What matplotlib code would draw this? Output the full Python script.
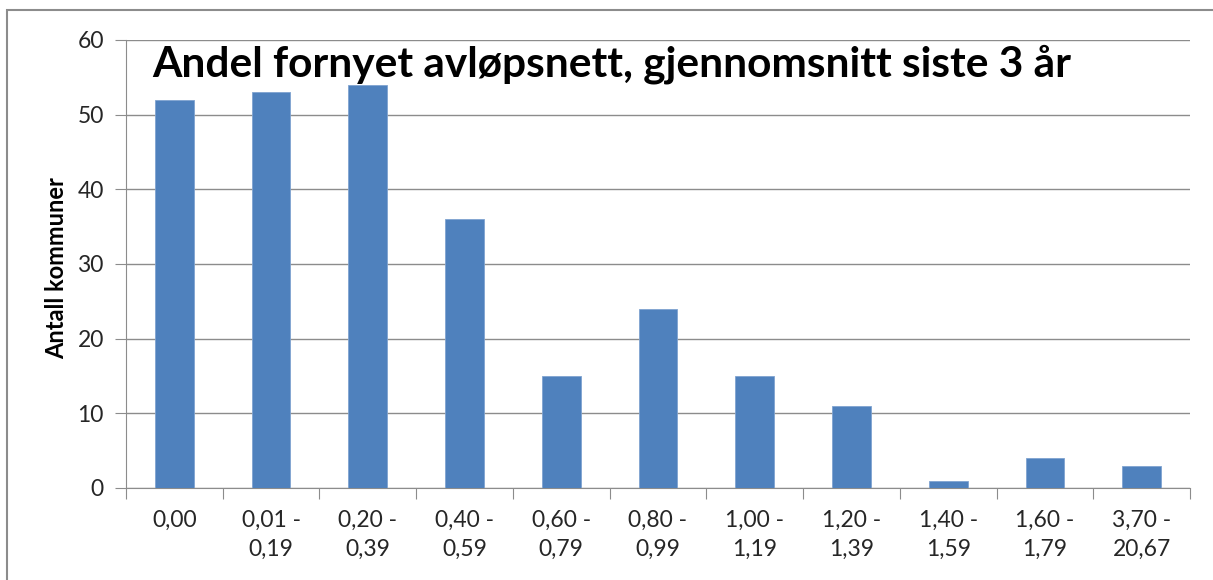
import matplotlib.pyplot as plt
from matplotlib.patches import Rectangle

# data
categories = ['0,00', '0,01 -\n0,19', '0,20 -\n0,39', '0,40 -\n0,59', '0,60 -\n0,79',
              '0,80 -\n0,99', '1,00 -\n1,19', '1,20 -\n1,39', '1,40 -\n1,59',
              '1,60 -\n1,79', '3,70 -\n20,67']
antall = [52, 53, 54, 36, 15, 24, 15, 11, 1, 4, 3]
yticks = [0, 10, 20, 30, 40, 50, 60]

title = 'Andel fornyet avløpsnett, gjennomsnitt siste 3 år'
ylabel = 'Antall kommuner'

plt.rcParams['font.family'] = ['Lato', 'DejaVu Sans']

W, H = 1213, 580
fig = plt.figure(figsize=(W / 100, H / 100), dpi=100)
ax = fig.add_axes([126 / W, 1 - 488 / H, (1190 - 126) / W, (488 - 40) / H])

# outer chart frame
fig.patches.append(Rectangle((7 / W, -0.1), 1.2, 1.1 - 10 / H, transform=fig.transFigure,
                             fill=False, edgecolor='#8c8c8c', linewidth=1.5))

x = list(range(len(categories)))
ax.bar(x, antall, width=0.4, color='#4f81bd', edgecolor='#7fa3d0', linewidth=0.6, zorder=3)

ax.set_xlim(-0.5, len(categories) - 0.5)
ax.set_ylim(0, 60)
ax.set_yticks(yticks)
ax.yaxis.grid(True, color='#8c8c8c', linewidth=1)
ax.set_axisbelow(True)

for s in ['top', 'right']:
    ax.spines[s].set_visible(False)
ax.spines['left'].set_color('#8c8c8c')
ax.spines['bottom'].set_color('#8c8c8c')

txt = '#262626'
# category labels between boundary ticks
ax.set_xticks([i - 0.5 for i in range(len(categories) + 1)])
ax.set_xticklabels([])
ax.set_xticks(x, minor=True)
ax.set_xticklabels(categories, minor=True, fontsize=16.5, linespacing=1.45, color=txt)
ax.tick_params(axis='x', which='minor', length=0, pad=16)
ax.tick_params(axis='x', which='major', length=8, color='#8c8c8c')
ax.tick_params(axis='y', length=8, color='#8c8c8c', labelsize=16.5, labelcolor=txt, pad=8)

fig.text(57 / W, 1 - 268 / H, ylabel, rotation=90, ha='center', va='center',
         fontsize=17, fontweight='bold')
fig.text(152 / W, 1 - 77 / H, title, ha='left', va='baseline',
         fontsize=30.5, fontweight='bold')

fig.savefig('out.png', dpi=100)
